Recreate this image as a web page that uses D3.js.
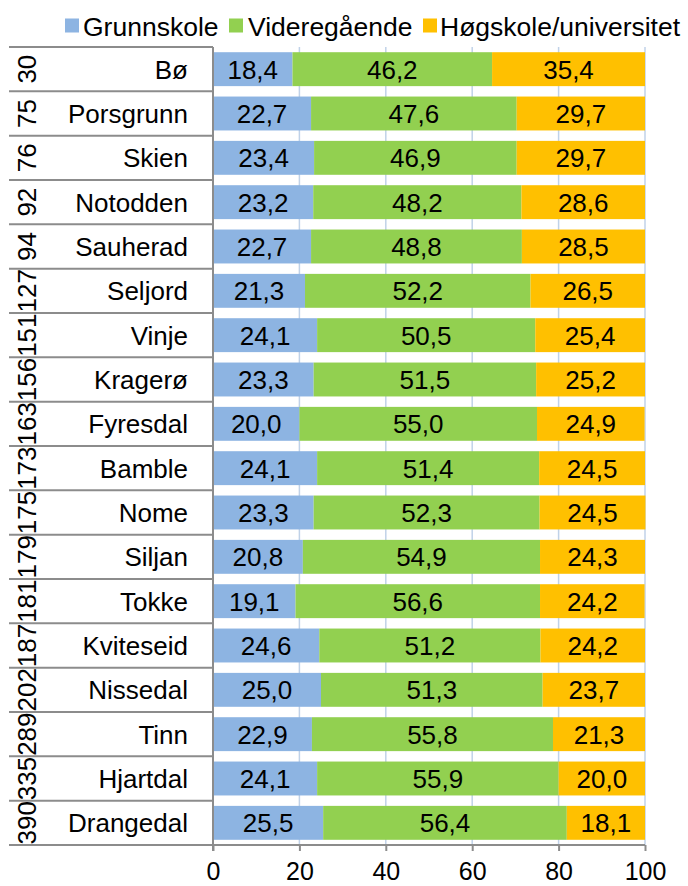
<!DOCTYPE html>
<html>
<head>
<meta charset="utf-8">
<script src="https://cdn.jsdelivr.net/npm/d3@7"></script>
<style>
  body { margin: 0; background: #fff; }
  svg text { font-family: "Liberation Sans", Arial, sans-serif; fill: #000; }
</style>
</head>
<body>
<svg id="chart" width="688" height="886"></svg>
<script>
let kommuner = ["Bø", "Porsgrunn", "Skien", "Notodden", "Sauherad", "Seljord", "Vinje", "Kragerø", "Fyresdal",
  "Bamble", "Nome", "Siljan", "Tokke", "Kviteseid", "Nissedal", "Tinn", "Hjartdal", "Drangedal"];
let rangering = ["30", "75", "76", "92", "94", "127", "151", "156", "163", "173", "175", "179", "181", "187", "202", "289", "335", "390"];
let grunnskole = [18.4, 22.7, 23.4, 23.2, 22.7, 21.3, 24.1, 23.3, 20.0, 24.1, 23.3, 20.8, 19.1, 24.6, 25.0, 22.9, 24.1, 25.5];
let videregaende = [46.2, 47.6, 46.9, 48.2, 48.8, 52.2, 50.5, 51.5, 55.0, 51.4, 52.3, 54.9, 56.6, 51.2, 51.3, 55.8, 55.9, 56.4];
let hogskole = [35.4, 29.7, 29.7, 28.6, 28.5, 26.5, 25.4, 25.2, 24.9, 24.5, 24.5, 24.3, 24.2, 24.2, 23.7, 21.3, 20.0, 18.1];
let seriesNames = ["Grunnskole", "Videregående", "Høgskole/universitet"];
let seriesColors = ["#8db4e2", "#92d050", "#ffc000"];
let xTicks = [0, 20, 40, 60, 80, 100];

var drawChart = function() {
  let svg = d3.select("#chart");
  let margin = { top: 47, right: 43, bottom: 41, left: 213 };
  let width = 688 - margin.left - margin.right;
  let height = 886 - margin.top - margin.bottom;

  let x = d3.scaleLinear().domain([0, 100]).range([0, width]);
  let y = d3.scaleBand().domain(kommuner).range([0, height]).paddingInner(0.235).paddingOuter(0.1175);

  let rows = kommuner.map(function(k, i) {
    return { kommune: k, rank: rangering[i], vals: [grunnskole[i], videregaende[i], hogskole[i]] };
  });

  let plot = svg.append("g").attr("transform", "translate(" + margin.left + "," + margin.top + ")");

  // gridlines
  plot.append("g").selectAll("line")
    .data(xTicks.slice(1))
    .enter().append("line")
    .attr("x1", d => x(d)).attr("x2", d => x(d))
    .attr("y1", 0).attr("y2", height)
    .attr("stroke", "#c0d2e8").attr("stroke-width", 1.5);

  // bars
  let step = y.step();
  rows.forEach(function(r) {
    let start = 0;
    r.vals.forEach(function(v, j) {
      let g = plot.append("g");
      g.append("rect")
        .attr("x", x(start))
        .attr("y", y(r.kommune))
        .attr("width", x(start + v) - x(start))
        .attr("height", y.bandwidth())
        .attr("fill", seriesColors[j]);
      g.append("text")
        .attr("x", x(start + v / 2))
        .attr("y", y(r.kommune) + y.bandwidth() / 2)
        .attr("dy", "0.36em")
        .attr("text-anchor", "middle")
        .style("font-size", "26px")
        .text(v.toFixed(1).replace(".", ","));
      start += v;
    });
  });

  // left "table" with ranks and names
  let table = svg.append("g").attr("transform", "translate(0," + margin.top + ")");
  table.selectAll("line.row")
    .data(d3.range(kommuner.length + 1))
    .enter().append("line")
    .attr("class", "row")
    .attr("x1", 9).attr("x2", margin.left)
    .attr("y1", d => d * step).attr("y2", d => d * step)
    .attr("stroke", "#8c8c8c").attr("stroke-width", 2);

  table.selectAll("text.name")
    .data(rows)
    .enter().append("text")
    .attr("class", "name")
    .attr("x", 188)
    .attr("y", d => y(d.kommune) + y.bandwidth() / 2)
    .attr("dy", "0.36em")
    .attr("text-anchor", "end")
    .style("font-size", "26px")
    .text(d => d.kommune);

  table.selectAll("text.rank")
    .data(rows)
    .enter().append("text")
    .attr("class", "rank")
    .attr("transform", d => "translate(36," + (y(d.kommune) + y.bandwidth() / 2) + ") rotate(-90)")
    .attr("text-anchor", "middle")
    .style("font-size", "26px")
    .text(d => d.rank);

  // axes
  let xAxis = d3.axisBottom(x).tickValues(xTicks).tickSize(6).tickPadding(11).tickFormat(d3.format("d"));
  let xg = plot.append("g").attr("transform", "translate(0," + height + ")").call(xAxis);
  xg.select(".domain").attr("stroke", "#8c8c8c").attr("stroke-width", 2).attr("d", "M0,0H" + width);
  xg.selectAll(".tick line").attr("stroke", "#8c8c8c").attr("stroke-width", 2);
  xg.selectAll(".tick text").style("font-size", "25px").attr("dy", "0.71em")
    .style("font-family", "'Liberation Sans', Arial, sans-serif").attr("fill", "#000");

  plot.append("line")
    .attr("x1", 0).attr("x2", 0).attr("y1", 0).attr("y2", height + 6)
    .attr("stroke", "#8c8c8c").attr("stroke-width", 2);

  // legend
  let legendBoxX = [65, 229, 423];
  let legendTextX = [83, 248, 440];
  let legend = svg.append("g");
  seriesNames.forEach(function(n, i) {
    legend.append("rect")
      .attr("x", legendBoxX[i]).attr("y", 18.5).attr("width", 14).attr("height", 14)
      .attr("fill", seriesColors[i]);
    legend.append("text")
      .attr("x", legendTextX[i]).attr("y", 36)
      .style("font-size", "26.5px")
      .text(n);
  });
}

drawChart();
</script>
</body>
</html>
